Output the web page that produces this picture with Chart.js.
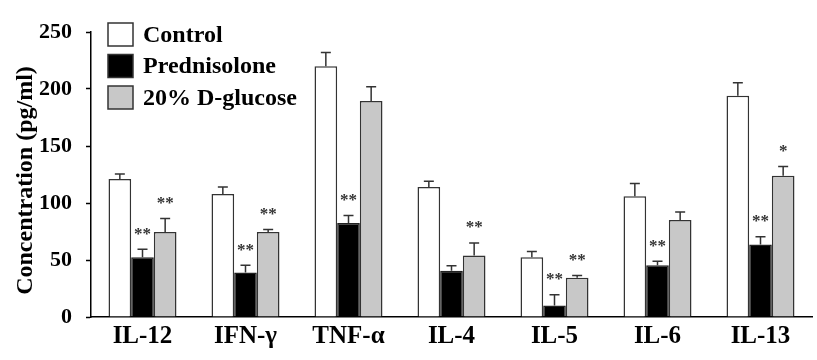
<!DOCTYPE html>
<html>
<head>
<meta charset="utf-8">
<script src="https://cdn.jsdelivr.net/npm/chart.js@4.4.1/dist/chart.umd.min.js"></script>
<style>
  html, body { margin: 0; padding: 0; background: #fff; }
  #wrap { width: 817px; height: 360px; }
</style>
</head>
<body>
<div id="wrap"><canvas id="c" width="817" height="360"></canvas></div>
<script>
const categories = ['IL-12', 'IFN-γ', 'TNF-α', 'IL-4', 'IL-5', 'IL-6', 'IL-13'];
const seriesNames = ['Control', 'Prednisolone', '20% D-glucose'];
const controlValues = [121, 108, 220, 114, 52.5, 106, 194];
const controlErrors = [4.5, 6, 12, 5, 5, 11, 11.5];
const prednisoloneValues = [52.5, 39, 82.5, 40.5, 10, 45.5, 63.5];
const prednisoloneErrors = [7, 6.5, 6.5, 4.5, 9.5, 3.5, 7];
const glucoseValues = [74.5, 74.5, 189.5, 54, 34.5, 85, 124];
const glucoseErrors = [12, 2.3, 12.5, 11, 2, 7, 8];
const controlStars = ['', '', '', '', '', '', ''];
const prednisoloneStars = ['**', '**', '**', '', '**', '**', '**'];
const glucoseStars = ['**', '**', '', '**', '**', '', '*'];
const yTicks = [0, 50, 100, 150, 200, 250];
const yTitle = 'Concentration (pg/ml)';

const FONT = "'Liberation Serif', 'Times New Roman', serif";

const errorPlugin = {
  id: 'errorBars',
  afterDatasetsDraw(chart) {
    const ctx = chart.ctx;
    const yScale = chart.scales.y;
    chart.data.datasets.forEach((ds, di) => {
      const meta = chart.getDatasetMeta(di);
      meta.data.forEach((bar, i) => {
        const v = ds.data[i];
        const top = yScale.getPixelForValue(v + ds.errors[i]);
        ctx.save();
        ctx.strokeStyle = '#333';
        ctx.lineWidth = 1.5;
        ctx.beginPath();
        ctx.moveTo(bar.x, bar.y);
        ctx.lineTo(bar.x, top);
        ctx.moveTo(bar.x - 5, top);
        ctx.lineTo(bar.x + 5, top);
        ctx.stroke();
        const s = ds.stars[i];
        if (s) {
          ctx.fillStyle = '#333';
          ctx.font = 'bold 17px ' + FONT;
          ctx.textAlign = 'center';
          ctx.textBaseline = 'middle';
          ctx.fillText(s, bar.x, top - 15);
        }
        ctx.restore();
      });
    });
  }
};

const legendPlugin = {
  id: 'boxLegend',
  afterDraw(chart) {
    const ctx = chart.ctx;
    const x0 = 108, y0 = 23, bw = 25, bh = 23, step = 31.5;
    chart.data.datasets.forEach((ds, i) => {
      const y = y0 + i * step;
      ctx.save();
      ctx.fillStyle = ds.backgroundColor;
      ctx.fillRect(x0, y, bw, bh);
      ctx.strokeStyle = '#333';
      ctx.lineWidth = 1.5;
      ctx.strokeRect(x0, y, bw, bh);
      ctx.fillStyle = '#000';
      ctx.font = 'bold 24px ' + FONT;
      ctx.textAlign = 'left';
      ctx.textBaseline = 'middle';
      ctx.fillText(ds.label, x0 + bw + 10, y + bh / 2 + 1);
      ctx.restore();
    });
    // y-axis title
    const area = chart.chartArea;
    ctx.save();
    ctx.translate(31.5, (area.top + area.bottom) / 2 + 6);
    ctx.rotate(-Math.PI / 2);
    ctx.fillStyle = '#000';
    ctx.font = 'bold 24px ' + FONT;
    ctx.textAlign = 'center';
    ctx.textBaseline = 'alphabetic';
    ctx.fillText(yTitle, 0, 0);
    ctx.restore();
  }
};

new Chart(document.getElementById('c'), {
  type: 'bar',
  data: {
    labels: categories,
    datasets: [
      { label: seriesNames[0], data: controlValues, errors: controlErrors, stars: controlStars,
        backgroundColor: '#ffffff', borderColor: '#333', borderWidth: 1.5 },
      { label: seriesNames[1], data: prednisoloneValues, errors: prednisoloneErrors, stars: prednisoloneStars,
        backgroundColor: '#000000', borderColor: '#222', borderWidth: 1.5 },
      { label: seriesNames[2], data: glucoseValues, errors: glucoseErrors, stars: glucoseStars,
        backgroundColor: '#c8c8c8', borderColor: '#333', borderWidth: 1.5 }
    ]
  },
  options: {
    responsive: false,
    animation: false,
    devicePixelRatio: 1,
    layout: { padding: { top: 32, right: 5, bottom: 3, left: 2 } },
    datasets: { bar: { categoryPercentage: 0.66, barPercentage: 1.0 } },
    plugins: {
      legend: { display: false },
      tooltip: { enabled: false }
    },
    scales: {
      x: {
        grid: { display: false, drawTicks: false },
        border: { display: true, color: '#000', width: 1.5 },
        ticks: { color: '#000', padding: 5, font: { family: FONT, size: 25, weight: 'bold' } }
      },
      y: {
        min: 0, max: 250,
        afterBuildTicks(scale) { scale.ticks = yTicks.map(v => ({ value: v })); },
        afterFit(scale) { scale.width = 89; },
        grid: { drawOnChartArea: false, drawTicks: true, tickLength: 5, color: '#000', tickWidth: 1.5 },
        border: { display: true, color: '#000', width: 1.5 },
        ticks: { color: '#000', padding: 14, font: { family: FONT, size: 22, weight: 'bold' } },
        title: { display: false }
      }
    }
  },
  plugins: [errorPlugin, legendPlugin]
});
</script>
</body>
</html>
